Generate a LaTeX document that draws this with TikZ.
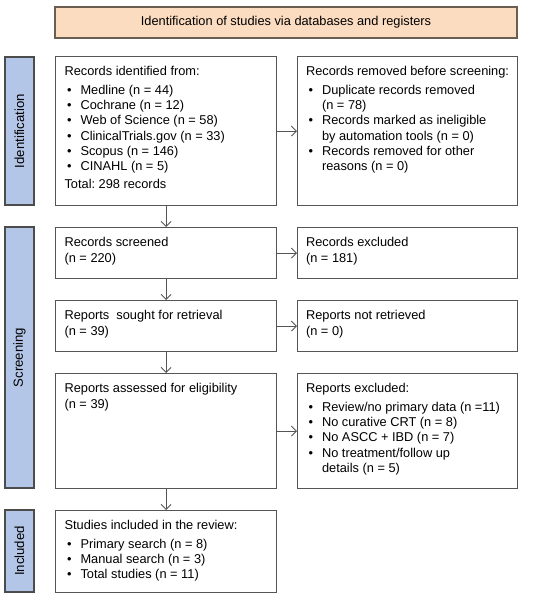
\documentclass[tikz,border=0pt]{standalone}
\usepackage{fontspec}
\setmainfont{Liberation Sans}
\usepackage{xcolor}
\usetikzlibrary{arrows.meta}
\definecolor{edge}{HTML}{555555}
\definecolor{peach}{HTML}{FCDCC0}
\definecolor{sideblue}{HTML}{B4C6E7}
\newcommand{\boxtxt}[2]{\parbox[c][#1pt][t]{203pt}{\raggedright\frenchspacing #2}}
\newcommand{\itm}[1]{\par\hangindent=16pt\hangafter=1\noindent\makebox[16pt][l]{\hspace{2.5pt}\textbullet}#1}

\begin{document}
\begin{tikzpicture}[x=1pt,y=-1pt,line width=1.1pt,
    font=\fontsize{12.8}{15.3}\selectfont,
    box/.style={draw=edge,anchor=north west,inner xsep=9pt,inner ysep=10pt},
    sidebox/.style={box,inner xsep=8.5pt},
    bar/.style={draw=edge!90!black,fill=sideblue,minimum width=29,inner sep=0pt,
      font=\fontsize{13.2}{15}\selectfont},
    flow/.style={draw=edge,line width=0.9pt,-{Straight Barb[length=5pt,width=10pt]}}]
          \useasboundingbox (0,0) rectangle (550,599);
          \node[draw=edge!80!brown,fill=peach,minimum width=462,minimum height=31,inner sep=0pt]
            (title) at (286,22.5) {Identification of studies via databases and registers};
          \node[bar,minimum height=148] (idbar) at (19.5,131) {\rotatebox{90}{Identification}};
          \node[bar,minimum height=261] (scbar) at (19.5,357.5) {\rotatebox{90}{Screening}};
          \node[bar,minimum height=82] (inbar) at (19.5,551) {\rotatebox{90}{Included}};
          \node[box] (ident) at (55,56) {\boxtxt{129}{Records identified from:\vspace{3pt}
            \itm{Medline (n = 44)}
            \itm{Cochrane (n = 12)}
            \itm{Web of Science (n = 58)}
            \itm{ClinicalTrials.gov (n = 33)}
            \itm{Scopus (n = 146)}
            \itm{CINAHL (n = 5)}\par\vspace{3pt}
            Total: 298 records}};
          \node[sidebox] (removed) at (297,56) {\boxtxt{129}{Records removed before screening:\vspace{3pt}
            \itm{Duplicate records removed\newline (n = 78)}
            \itm{Records marked as ineligible\newline by automation tools (n = 0)}
            \itm{Records removed for other\newline reasons (n = 0)}}};
          \node[box] (screened) at (55,227) {\boxtxt{31}{Records screened\\(n = 220)}};
          \node[sidebox] (excluded) at (297,227) {\boxtxt{31}{Records excluded\\(n = 181)}};
          \node[box] (sought) at (55,300) {\boxtxt{31}{Reports\ \ sought for retrieval\\(n = 39)}};
          \node[sidebox] (notret) at (297,300) {\boxtxt{31}{Reports not retrieved\\(n = 0)}};
          \node[box] (assessed) at (55,373) {\boxtxt{95}{Reports assessed for eligibility\\(n = 39)}};
          \node[sidebox] (repexcl) at (297,373) {\boxtxt{95}{Reports excluded:\vspace{3pt}
            \itm{Review/no primary data (n =11)}
            \itm{No curative CRT (n = 8)}
            \itm{No ASCC + IBD (n = 7)}
            \itm{No treatment/follow up\newline details (n = 5)}}};
          \node[box] (included) at (55,510) {\boxtxt{62}{Studies included in the review:\vspace{3pt}
            \itm{Primary search (n = 8)}
            \itm{Manual search (n = 3)}
            \itm{Total studies (n = 11)}}};
          \draw[flow] (ident) -- (removed);
          \draw[flow] (screened) -- (excluded);
          \draw[flow] (sought) -- (notret);
          \draw[flow] (assessed) -- (repexcl);
          \draw[flow] (ident) -- (screened);
          \draw[flow] (screened) -- (sought);
          \draw[flow] (sought) -- (assessed);
          \draw[flow] (assessed) -- (included);
        \end{tikzpicture}
\end{document}
